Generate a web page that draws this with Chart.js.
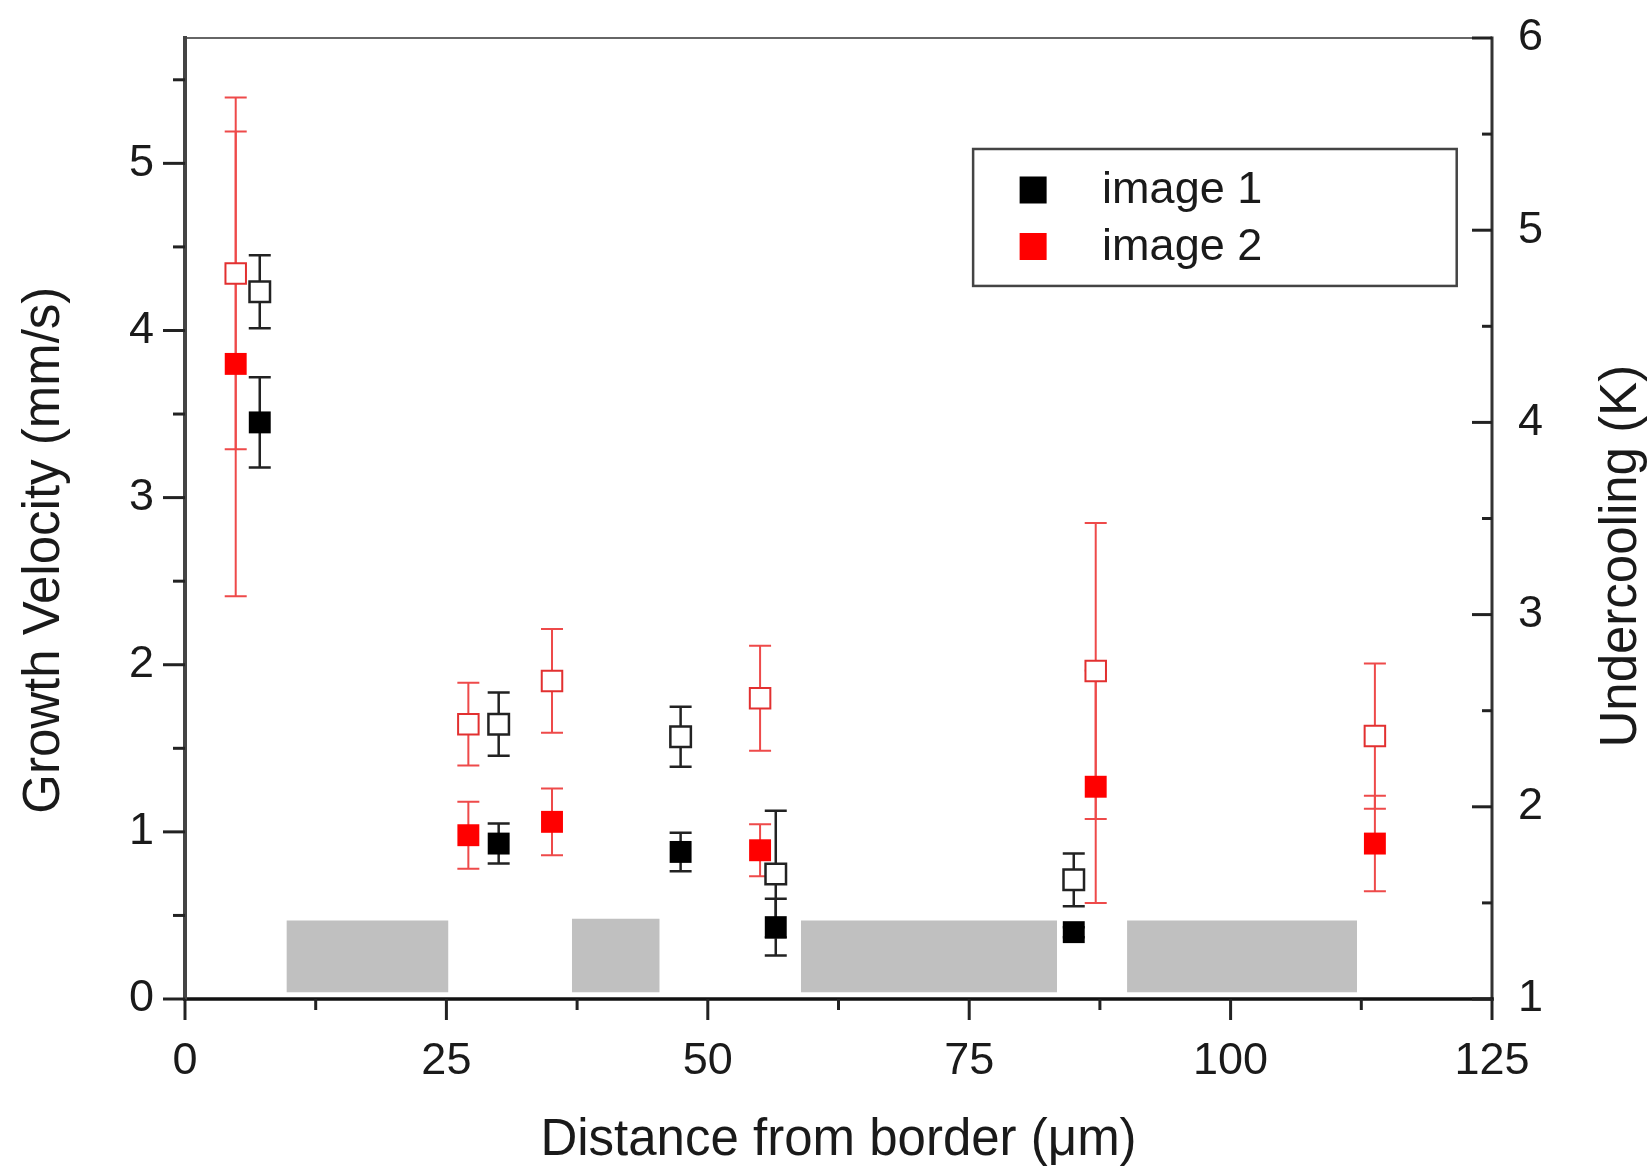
<!DOCTYPE html>
<html>
<head>
<meta charset="utf-8">
<title>Growth velocity and undercooling vs distance from border</title>
<script src="https://cdn.jsdelivr.net/npm/chart.js@4.4.1/dist/chart.umd.min.js"></script>
<style>
  html, body { margin: 0; padding: 0; background: #fff; }
  #wrap { width: 1652px; height: 1176px; }
</style>
</head>
<body>
<div id="wrap"><canvas id="chart" width="1652" height="1176"></canvas></div>
<script>
/* =============================================
   DATA
   ============================================= */
const xTicks       = [0, 25, 50, 75, 100, 125];
const xMinorTicks  = [12.5, 37.5, 62.5, 87.5, 112.5];
const yTicks       = [0, 1, 2, 3, 4, 5];
const yMinorTicks  = [0.5, 1.5, 2.5, 3.5, 4.5, 5.5];
const y2Ticks      = [1, 2, 3, 4, 5, 6];
const y2MinorTicks = [1.5, 2.5, 3.5, 4.5, 5.5];

// image 1 (black)
const img1X      = [7.15, 30.0, 47.4, 56.5, 85.0];
const img1Vel    = [3.45, 0.93, 0.88, 0.43, 0.40];
const img1VelErr = [0.27, 0.12, 0.115, 0.17, 0.03];
const img1Und    = [4.68, 2.43, 2.365, 1.65, 1.62];
const img1UndErr = [0.19, 0.165, 0.156, 0.33, 0.137];

// image 2 (red)
const img2X      = [4.85, 27.1, 35.1, 55.0, 87.1, 113.8];
const img2Vel    = [3.80, 0.98, 1.06, 0.89, 1.27, 0.93];
const img2VelErr = [1.39, 0.20, 0.20, 0.155, 0.695, 0.286];
const img2Und    = [4.775, 2.43, 2.655, 2.565, 2.707, 2.368];
const img2UndErr = [0.915, 0.215, 0.27, 0.273, 0.77, 0.378];

// grey bands along the bottom (left axis units)
const bandStart = [9.7, 37.0, 58.9, 90.1];
const bandEnd   = [25.2, 45.4, 83.4, 112.1];
const bandTop   = [0.47, 0.48, 0.47, 0.47];
const bandBase  = 0.04;

const legendLabels = ['image 1', 'image 2'];

/* =============================================
   STYLE
   ============================================= */
const FONT   = "'Liberation Sans', Arial, Helvetica, sans-serif";
const BLACK  = '#000000';
const RED    = '#ff0000';
const RED_EB = '#ee4a4a';
const GREY   = '#c0c0c0';

const toPts = (xs, ys) => xs.map((x, i) => ({ x, y: ys[i] }));

/* =============================================
   DATASETS
   ============================================= */
const bandSets = bandStart.map((s, i) => ({
  type: 'line',
  data: [{ x: s, y: bandTop[i] }, { x: bandEnd[i], y: bandTop[i] }],
  yAxisID: 'y',
  borderWidth: 0,
  borderColor: 'rgba(0,0,0,0)',
  backgroundColor: GREY,
  pointRadius: 0,
  fill: { value: bandBase },
  order: 10
}));

const pointSets = [
  { label: legendLabels[0], data: toPts(img1X, img1Vel), yAxisID: 'y',
    errors: img1VelErr, errorColor: '#222', errorWidth: 2.5,
    pointStyle: 'rect', pointRadius: 15.5, backgroundColor: BLACK,
    borderColor: BLACK, borderWidth: 0, showLine: false, order: 1 },
  { label: legendLabels[1], data: toPts(img2X, img2Vel), yAxisID: 'y',
    errors: img2VelErr, errorColor: RED_EB, errorWidth: 2,
    pointStyle: 'rect', pointRadius: 15.5, backgroundColor: RED,
    borderColor: RED, borderWidth: 0, showLine: false, order: 1 },
  { label: 'u1', data: toPts(img1X, img1Und), yAxisID: 'y2',
    errors: img1UndErr, errorColor: '#222', errorWidth: 2.5,
    pointStyle: 'rect', pointRadius: 14.5, backgroundColor: '#fff',
    borderColor: '#222', borderWidth: 2.5, showLine: false, order: 1 },
  { label: 'u2', data: toPts(img2X, img2Und), yAxisID: 'y2',
    errors: img2UndErr, errorColor: RED_EB, errorWidth: 2,
    pointStyle: 'rect', pointRadius: 14.5, backgroundColor: '#fff',
    borderColor: '#e23030', borderWidth: 2, showLine: false, order: 1 }
];

/* =============================================
   PLUGINS
   ============================================= */

/** Vertical error bars with caps, drawn under the markers */
const errorBars = {
  id: 'errorBars',
  beforeDatasetsDraw(chart) {
    const ctx = chart.ctx;
    const xs = chart.scales.x;
    const cap = 11;
    chart.data.datasets.forEach(ds => {
      if (!ds.errors) return;
      const ys = chart.scales[ds.yAxisID];
      ctx.save();
      ctx.strokeStyle = ds.errorColor;
      ctx.lineWidth = ds.errorWidth;
      ds.data.forEach((p, j) => {
        const e = ds.errors[j];
        const px = xs.getPixelForValue(p.x);
        const hi = ys.getPixelForValue(p.y + e);
        const lo = ys.getPixelForValue(p.y - e);
        ctx.beginPath();
        ctx.moveTo(px, hi); ctx.lineTo(px, lo);
        ctx.moveTo(px - cap, hi); ctx.lineTo(px + cap, hi);
        ctx.moveTo(px - cap, lo); ctx.lineTo(px + cap, lo);
        ctx.stroke();
      });
      ctx.restore();
    });
  }
};

/** Frame, tick marks, y titles and legend box */
const frame = {
  id: 'frame',
  afterDraw(chart) {
    const { ctx, chartArea: a, scales } = chart;
    const { x, y, y2 } = scales;
    ctx.save();

    // frame
    ctx.lineCap = 'square';
    ctx.strokeStyle = '#666'; ctx.lineWidth = 2;
    ctx.beginPath(); ctx.moveTo(a.left, a.top); ctx.lineTo(a.right, a.top); ctx.stroke();
    ctx.strokeStyle = '#333'; ctx.lineWidth = 3;
    ctx.beginPath(); ctx.moveTo(a.right, a.top); ctx.lineTo(a.right, a.bottom); ctx.stroke();
    ctx.strokeStyle = '#111'; ctx.lineWidth = 3.5;
    ctx.beginPath(); ctx.moveTo(a.left, a.bottom); ctx.lineTo(a.right, a.bottom); ctx.stroke();
    ctx.strokeStyle = '#444'; ctx.lineWidth = 4;
    ctx.beginPath(); ctx.moveTo(a.left, a.top); ctx.lineTo(a.left, a.bottom); ctx.stroke();

    // ticks
    ctx.lineCap = 'butt';
    ctx.strokeStyle = '#222'; ctx.lineWidth = 3;
    const tick = (x0, y0, x1, y1) => { ctx.beginPath(); ctx.moveTo(x0, y0); ctx.lineTo(x1, y1); ctx.stroke(); };
    xTicks.forEach(v => { const p = x.getPixelForValue(v); tick(p, a.bottom, p, a.bottom + 21); });
    xMinorTicks.forEach(v => { const p = x.getPixelForValue(v); tick(p, a.bottom, p, a.bottom + 11); });
    yTicks.forEach(v => { const p = y.getPixelForValue(v); tick(a.left, p, a.left - 22, p); });
    yMinorTicks.forEach(v => { const p = y.getPixelForValue(v); tick(a.left, p, a.left - 12, p); });
    y2Ticks.forEach(v => { const p = y2.getPixelForValue(v); tick(a.right, p, a.right - 20, p); });
    y2MinorTicks.forEach(v => { const p = y2.getPixelForValue(v); tick(a.right, p, a.right - 10, p); });

    // y titles (both read bottom to top)
    ctx.fillStyle = '#1a1a1a';
    ctx.font = '51px ' + FONT;
    ctx.textAlign = 'center';
    ctx.textBaseline = 'middle';
    const midY = a.top + a.height * 0.533;
    ctx.save();
    ctx.translate(45, midY); ctx.rotate(-Math.PI / 2);
    ctx.fillText('Growth Velocity (mm/s)', 0, 0);
    ctx.restore();
    ctx.save();
    ctx.translate(chart.width - 30, midY + 6); ctx.rotate(-Math.PI / 2);
    ctx.fillText('Undercooling (K)', 0, 0);
    ctx.restore();

    // legend
    const lx = a.left + a.width * 0.603, lw = a.width * 0.370;
    const ly = a.top + a.height * 0.1155, lh = a.height * 0.1425;
    ctx.fillStyle = '#fff';
    ctx.fillRect(lx, ly, lw, lh);
    ctx.strokeStyle = '#444'; ctx.lineWidth = 2.5;
    ctx.strokeRect(lx, ly, lw, lh);
    const sw = 27;
    [BLACK, RED].forEach((c, i) => {
      const cy = ly + 41 + i * 56.5;
      ctx.fillStyle = c;
      ctx.fillRect(lx + 60 - sw / 2, cy - sw / 2, sw, sw);
      ctx.fillStyle = '#1a1a1a';
      ctx.font = '45px ' + FONT;
      ctx.textAlign = 'left';
      ctx.fillText(legendLabels[i], lx + 129, cy + 1);
    });
    ctx.restore();
  }
};

/* =============================================
   CHART
   ============================================= */
const tickFont = { family: FONT, size: 45 };

new Chart(document.getElementById('chart'), {
  type: 'scatter',
  data: { datasets: [...bandSets, ...pointSets] },
  options: {
    responsive: false,
    devicePixelRatio: 1,
    animation: false,
    layout: { padding: { top: 38, left: 0, right: 0, bottom: 0 } },
    plugins: {
      legend: { display: false },
      tooltip: { enabled: false }
    },
    scales: {
      x: {
        type: 'linear', position: 'bottom', min: 0, max: 125,
        grid: { display: false, drawTicks: false },
        border: { display: false },
        ticks: { font: tickFont, color: '#1a1a1a', padding: 36, maxRotation: 0 },
        afterBuildTicks: s => { s.ticks = xTicks.map(v => ({ value: v })); },
        afterFit: s => { s.height = 177; s.paddingLeft = 0; s.paddingRight = 0; },
        title: { display: true, text: 'Distance from border (\u03bcm)',
                 font: { family: FONT, size: 51 }, color: '#1a1a1a',
                 padding: { top: 0, bottom: 4 } }
      },
      y: {
        type: 'linear', position: 'left', min: 0, max: 5.75,
        grid: { display: false, drawTicks: false },
        border: { display: false },
        ticks: { font: tickFont, color: '#1a1a1a', padding: 31 },
        afterBuildTicks: s => { s.ticks = yTicks.map(v => ({ value: v })); },
        afterFit: s => { s.width = 185; s.paddingTop = 0; s.paddingBottom = 0; }
      },
      y2: {
        type: 'linear', position: 'right', min: 1, max: 6,
        grid: { display: false, drawTicks: false },
        border: { display: false },
        ticks: { font: tickFont, color: '#1a1a1a', padding: 26 },
        afterBuildTicks: s => { s.ticks = y2Ticks.map(v => ({ value: v })); },
        afterFit: s => { s.width = 160; s.paddingTop = 0; s.paddingBottom = 0; }
      }
    }
  },
  plugins: [errorBars, frame]
});
</script>
</body>
</html>
